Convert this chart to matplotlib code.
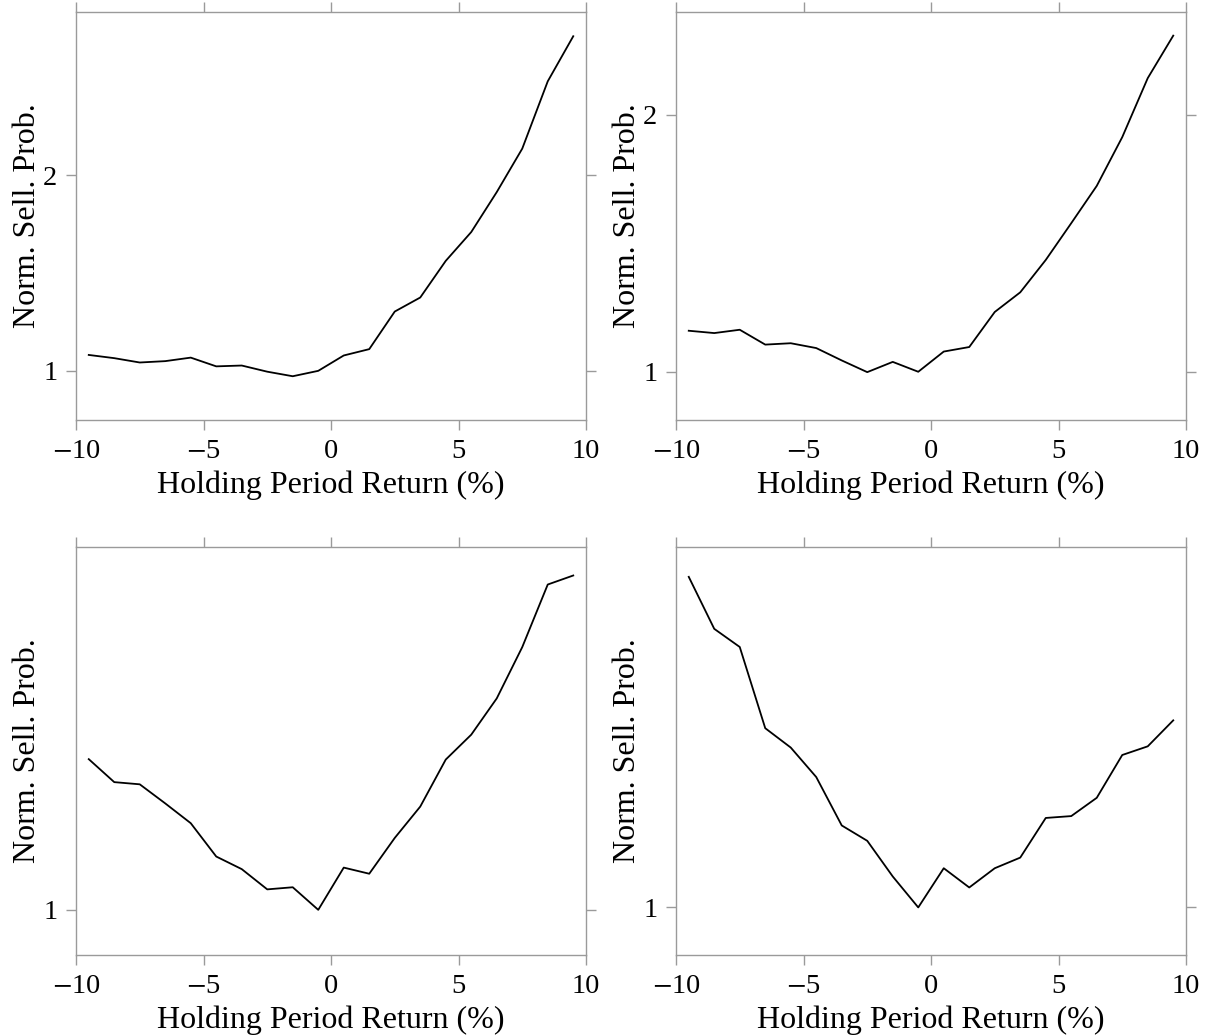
import matplotlib
matplotlib.use("Agg")
import matplotlib.pyplot as plt
import matplotlib.ticker as mticker
import numpy as np

# Holding period return bins (%)
returns = [-9.5, -8.5, -7.5, -6.5, -5.5, -4.5, -3.5, -2.5, -1.5, -0.5,
           0.5, 1.5, 2.5, 3.5, 4.5, 5.5, 6.5, 7.5, 8.5, 9.5]

# normalised selling probability, one series per panel
prob_tl = [1.058, 1.046, 1.030, 1.035, 1.048, 1.016, 1.019, 0.997, 0.981, 1.000,
           1.056, 1.080, 1.234, 1.297, 1.477, 1.636, 1.885, 2.199, 2.792, 3.276]
prob_tr = [1.117, 1.110, 1.120, 1.076, 1.080, 1.066, 1.031, 0.999, 1.027, 1.000,
           1.056, 1.069, 1.175, 1.239, 1.352, 1.493, 1.651, 1.883, 2.208, 2.476]
prob_bl = [1.316, 1.262, 1.257, 1.214, 1.171, 1.102, 1.077, 1.038, 1.042, 1.000,
           1.080, 1.068, 1.140, 1.207, 1.315, 1.376, 1.470, 1.614, 1.809, 1.839]
prob_br = [1.826, 1.661, 1.607, 1.386, 1.338, 1.268, 1.161, 1.129, 1.058, 1.000,
           1.074, 1.037, 1.074, 1.095, 1.177, 1.181, 1.221, 1.320, 1.341, 1.406]

ylims = [(0.840, 3.57), (0.878, 2.639), (0.921, 1.937), (0.917, 1.928)]

plt.rcParams["font.family"] = ["Liberation Serif", "DejaVu Serif"]
plt.rcParams["mathtext.fontset"] = "stix"

fig = plt.figure(figsize=(12.1, 10.35), dpi=100)
W, H = 1210, 1035
boxes = [(76, 12, 586, 420), (676, 12, 1186, 420),
         (76, 547, 586, 955), (676, 547, 1186, 955)]
series = [prob_tl, prob_tr, prob_bl, prob_br]

grey = "#9a9a9a"
for (x0, y0, x1, y1), probs, yl in zip(boxes, series, ylims):
    ax = fig.add_axes([x0 / W, 1 - y1 / H, (x1 - x0) / W, (y1 - y0) / H])
    ax.plot(returns, probs, color="black", linewidth=1.3)
    ax.set_yscale("log", base=2)
    ax.set_ylim(*yl)
    ax.set_xlim(-10, 10)
    ax.set_xticks([-10, -5, 0, 5, 10])
    ax.yaxis.set_major_locator(mticker.FixedLocator([1, 2]))
    ax.yaxis.set_major_formatter(mticker.FuncFormatter(lambda v, p: f"{v:g}"))
    ax.yaxis.set_minor_locator(mticker.NullLocator())
    ax.xaxis.set_major_formatter(mticker.FuncFormatter(
        lambda v, p: f"$-${abs(v):g}" if v < 0 else f"{v:g}"))
    for s in ax.spines.values():
        s.set_color(grey)
        s.set_linewidth(1.0)
    ax.tick_params(direction="out", length=7, width=1.0, color=grey,
                   labelsize=20.5, top=True, right=True, pad=6.5)
    ax.set_xlabel("Holding Period Return (%)", fontsize=23, labelpad=5)
    ax.set_ylabel("Norm. Sell. Prob.", fontsize=23, labelpad=1)

fig.savefig("out.png", dpi=100)
